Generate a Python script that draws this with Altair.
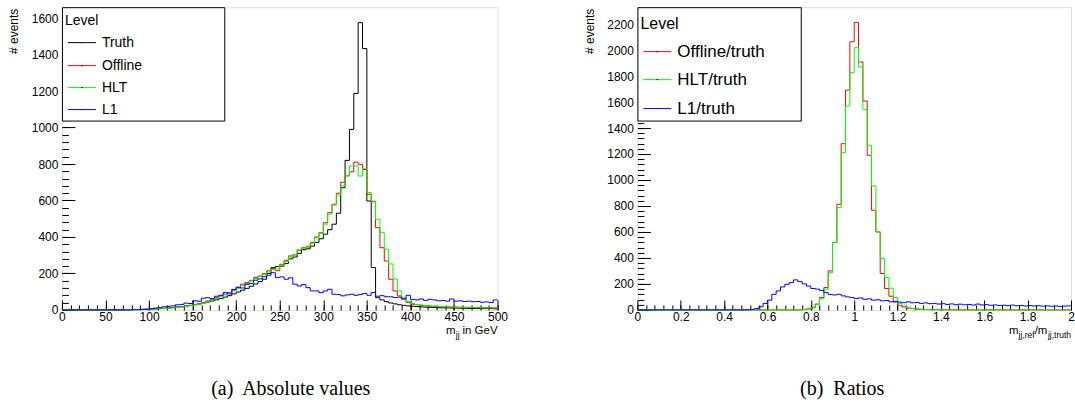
import altair as alt
import pandas as pd

FONT = "Liberation Sans"
SERIF = "Liberation Serif"

# ---------------- (a) absolute values: 100 bins of 5 GeV, 0..500 GeV ----------------
abs_bin_lo = 0.0
abs_bin_w = 5.0
abs_truth = [
    0, 0, 0, 0, 0, 0, 0, 0, 0, 0,
    0, 0, 0, 0, 1, 1, 2, 2, 3, 4,
    5, 6, 8, 9, 11, 13, 16, 18, 21, 25,
    29, 33, 38, 43, 49, 55, 62, 70, 78, 88,
    98, 108, 118, 130, 142, 155, 168, 200, 232, 238,
    240, 255, 280, 290, 310, 330, 335, 350, 370, 390,
    415, 440, 470, 530, 670, 820, 990, 1187, 1575, 1433,
    597, 232, 67, 55, 45, 38, 33, 28, 25, 22,
    20, 18, 17, 15, 14, 13, 12, 11, 11, 10,
    10, 9, 9, 8, 8, 8, 7, 7, 7, 6,
]
abs_offline = [
    0, 0, 0, 0, 0, 0, 0, 0, 0, 0,
    0, 0, 0, 1, 1, 1, 2, 2, 3, 3,
    4, 5, 7, 8, 10, 12, 15, 17, 21, 24,
    30, 34, 40, 49, 58, 67, 77, 86, 95, 113,
    122, 141, 150, 162, 177, 186, 199, 214, 228, 215,
    250, 272, 296, 301, 327, 341, 345, 369, 400, 423,
    478, 533, 579, 640, 700, 735, 757, 810, 798, 770,
    634, 593, 451, 341, 268, 168, 104, 77, 59, 40,
    31, 28, 25, 22, 21, 20, 18, 18, 17, 16,
    15, 15, 14, 14, 13, 13, 12, 12, 12, 11,
]
abs_hlt = [
    0, 0, 0, 0, 0, 0, 0, 0, 0, 0,
    0, 0, 0, 0, 1, 1, 1, 2, 2, 3,
    4, 5, 6, 8, 9, 11, 14, 16, 19, 23,
    27, 32, 37, 45, 55, 63, 73, 82, 92, 105,
    118, 132, 145, 158, 172, 183, 195, 208, 222, 225,
    245, 265, 290, 305, 330, 338, 350, 365, 395, 418,
    470, 525, 575, 630, 680, 735, 789, 789, 734, 777,
    643, 597, 498, 423, 333, 252, 170, 104, 67, 45,
    35, 30, 27, 24, 22, 20, 19, 18, 17, 16,
    15, 14, 14, 13, 13, 12, 12, 11, 11, 11,
]
abs_l1 = [
    0, 0, 0, 0, 0, 0, 0, 0, 0, 0,
    0, 0, 0, 0, 0, 0, 1, 1, 2, 3,
    6, 10, 12, 17, 20, 22, 28, 30, 37, 35,
    50, 48, 64, 67, 62, 75, 80, 95, 88, 110,
    125, 120, 140, 145, 163, 170, 182, 190, 204, 177,
    181, 168, 176, 141, 131, 139, 122, 104, 104, 95,
    104, 113, 86, 84, 77, 82, 86, 80, 84, 90,
    80, 95, 75, 78, 72, 72, 68, 70, 60, 80,
    58, 55, 60, 52, 58, 55, 50, 52, 48, 60,
    48, 50, 46, 48, 45, 46, 42, 44, 40, 55,
]
abs_names = ["Truth", "Offline", "HLT", "L1"]
abs_colors = ["#000000", "#ff0000", "#00ff00", "#0000ff"]
abs_x_major = [0, 50, 100, 150, 200, 250, 300, 350, 400, 450, 500]
abs_x_minor = list(range(0, 501, 10))
abs_y_major = [0, 200, 400, 600, 800, 1000, 1200, 1400, 1600]
abs_y_minor = list(range(0, 1641, 40))

# ---------------- (b) ratios: 100 bins of 0.02, 0..2 ----------------
rat_bin_lo = 0.0
rat_bin_w = 0.02
rat_offline = [
    0, 0, 0, 0, 0, 0, 0, 0, 0, 0,
    0, 0, 0, 0, 0, 0, 0, 0, 0, 0,
    0, 0, 0, 0, 0, 0, 0, 0, 0, 0,
    0, 0, 0, 0, 0, 0, 0, 1, 3, 8,
    18, 45, 95, 172, 300, 518, 813, 1279, 1692, 2064,
    2213, 1908, 1608, 1190, 767, 600, 280, 165, 105, 60,
    35, 22, 14, 9, 6, 4, 3, 2, 2, 1,
    1, 1, 0, 1, 0, 0, 0, 0, 0, 0,
    0, 0, 0, 0, 0, 0, 0, 0, 0, 0,
    0, 0, 0, 0, 0, 0, 0, 0, 0, 0,
]
rat_hlt = [
    0, 0, 0, 0, 0, 0, 0, 0, 0, 0,
    0, 0, 0, 0, 0, 0, 0, 0, 0, 0,
    0, 0, 0, 0, 0, 0, 0, 0, 0, 0,
    0, 0, 0, 0, 0, 0, 0, 0, 2, 6,
    15, 40, 85, 159, 287, 518, 787, 1210, 1569, 1826,
    2018, 1869, 1544, 1267, 954, 600, 397, 249, 167, 95,
    50, 30, 18, 12, 8, 5, 3, 2, 1, 1,
    1, 0, 1, 0, 0, 0, 0, 0, 0, 0,
    0, 0, 0, 0, 0, 0, 0, 0, 0, 0,
    0, 0, 0, 0, 0, 0, 0, 0, 0, 0,
]
rat_l1 = [
    0, 0, 0, 0, 0, 0, 0, 0, 0, 0,
    0, 0, 0, 0, 0, 0, 0, 0, 0, 0,
    0, 0, 0, 0, 0, 1, 4, 10, 25, 50,
    75, 120, 146, 177, 197, 210, 231, 218, 200, 183,
    165, 160, 150, 133, 118, 115, 120, 108, 100, 95,
    88, 92, 82, 85, 75, 78, 70, 72, 62, 66,
    60, 56, 62, 55, 57, 50, 54, 48, 50, 45,
    48, 42, 46, 40, 44, 39, 42, 37, 45, 38,
    40, 36, 38, 34, 36, 33, 37, 32, 34, 30,
    33, 30, 32, 29, 31, 28, 30, 27, 29, 31,
]
rat_names = ["Offline/truth", "HLT/truth", "L1/truth"]
rat_colors = ["#ff0000", "#00ff00", "#0000ff"]
rat_x_major = [0, 0.2, 0.4, 0.6, 0.8, 1.0, 1.2, 1.4, 1.6, 1.8, 2.0]
rat_x_minor = [round(0.04 * i, 2) for i in range(51)]
rat_y_major = [0, 200, 400, 600, 800, 1000, 1200, 1400, 1600, 1800, 2000, 2200]
rat_y_minor = list(range(0, 2321, 40))


def hist_frame(values, lo, w):
    xs = [lo + i * w for i in range(len(values) + 1)]
    ys = list(values) + [values[-1]]
    return pd.DataFrame({"x": xs, "y": ys})


def one_row():
    return alt.Chart(pd.DataFrame({"k": [0]}))


def text_layer(txt, x, y, size, align="left", font=FONT, baseline="middle"):
    return one_row().mark_text(
        text=txt, font=font, fontSize=size, align=align, baseline=baseline, color="black"
    ).encode(x=alt.value(x), y=alt.value(y))


def tick_layer(frame, xs, ys, W, H, xvals, yvals, xlen, ylen):
    return alt.Chart(frame).mark_line(opacity=0, strokeWidth=0).encode(
        x=alt.X("x:Q", scale=xs, axis=alt.Axis(
            orient="top", offset=-H, values=xvals, labels=False, domain=False,
            ticks=True, tickSize=xlen, tickColor="black", tickWidth=1, grid=False, title=None)),
        y=alt.Y("y:Q", scale=ys, axis=alt.Axis(
            orient="right", offset=-W, values=yvals, labels=False, domain=False,
            ticks=True, tickSize=ylen, tickColor="black", tickWidth=1, grid=False, title=None)),
    )


def panel(series, names, colors, lo, w, xdom, ydom, W, H, xfmt,
          xmaj, xmin, ymaj, ymin, leg, title_pieces, caption, caption_x):
    xs = alt.Scale(domain=xdom, nice=False, zero=False)
    ys = alt.Scale(domain=ydom, nice=False, zero=True)
    f0 = hist_frame(series[0], lo, w)

    base = alt.Chart(f0).mark_line(opacity=0, strokeWidth=0).encode(
        x=alt.X("x:Q", scale=xs, axis=alt.Axis(
            values=xmaj, format=xfmt, ticks=False, tickSize=0, labelPadding=2,
            labelOverlap=False, labelFlush=False,
            domain=False, grid=False, title=None, labelFont=FONT, labelFontSize=12,
            labelColor="black")),
        y=alt.Y("y:Q", scale=ys, axis=alt.Axis(
            values=ymaj, format="d", ticks=False, tickSize=0, labelPadding=4,
            labelOverlap=False, labelFlush=False,
            domain=False, grid=False, labelFont=FONT, labelFontSize=12, labelColor="black",
            title="# events", titleFont=FONT, titleFontSize=12, titleFontWeight="normal",
            titleColor="black", titleAngle=270, titleAlign="right", titleBaseline="middle",
            titleX=-48, titleY=1)),
    )
    layers = [base,
              tick_layer(f0, xs, ys, W, H, xmaj, ymaj, 10, 13),
              tick_layer(f0, xs, ys, W, H, xmin, ymin, 5, 6.5)]

    for vals, col in zip(series, colors):
        fr = hist_frame(vals, lo, w)
        layers.append(alt.Chart(fr).mark_line(
            interpolate="step-after", strokeWidth=1, color=col).encode(
            x=alt.X("x:Q", scale=xs, axis=None),
            y=alt.Y("y:Q", scale=ys, axis=None)))

    # legend box
    box_w, box_h, title_y, title_size, row_y0, row_dy, fsize = leg
    layers.append(one_row().mark_rect(fill="white", stroke="black", strokeWidth=1).encode(
        x=alt.value(0.5), x2=alt.value(box_w), y=alt.value(0.5), y2=alt.value(box_h)))
    layers.append(text_layer("Level", 3, title_y, title_size))
    for i, (n, c) in enumerate(zip(names, colors)):
        yy = round(row_y0 + i * row_dy) + 0.5
        layers.append(one_row().mark_rule(stroke=c, strokeWidth=1).encode(
            x=alt.value(6), x2=alt.value(34), y=alt.value(yy)))
        layers.append(one_row().mark_rule(stroke="#222222", strokeWidth=1).encode(
            x=alt.value(19), x2=alt.value(21), y=alt.value(yy)))
        layers.append(text_layer(n, 40, yy, fsize))

    for txt, x, y, size in title_pieces:
        layers.append(text_layer(txt, x, y, size, align="right"))

    layers.append(text_layer(caption, caption_x, 382, 20, align="center", font=SERIF))

    return alt.layer(*layers).resolve_axis(x="independent", y="independent").properties(
        width=W, height=H)


left = panel(
    [abs_truth, abs_offline, abs_hlt, abs_l1], abs_names, abs_colors,
    abs_bin_lo, abs_bin_w, [0, 500], [0, 1660], 436, 303, "d",
    abs_x_major, abs_x_minor, abs_y_major, abs_y_minor,
    (163, 114, 14, 14, 35, 22.5, 14),
    [("m", 394, 324.5, 11.5), ("jj", 398, 328.5, 8.5), ("in GeV", 436, 324.5, 11.5)],
    "(a)\u00a0 Absolute values", 229,
)

right = panel(
    [rat_offline, rat_hlt, rat_l1], rat_names, rat_colors,
    rat_bin_lo, rat_bin_w, [0, 2], [0, 2330], 434, 303, "~g",
    rat_x_major, rat_x_minor, rat_y_major, rat_y_minor,
    (164, 114, 17, 16, 44, 28.5, 17),
    [("m", 381.6, 324.5, 11.5), ("jj,ref", 397.6, 328.5, 8.5), ("/m", 410.4, 324.5, 11.5),
     ("jj,truth", 434, 328.5, 8.5)],
    "(b)\u00a0 Ratios", 205,
)

chart = alt.hconcat(
    left, right, spacing=140, bounds="flush",
    padding={"left": 7, "top": 6, "right": 0, "bottom": 0},
).configure_view(stroke="black", strokeWidth=1).configure(background="white")

chart.save("out.html", embed_options={"renderer": "svg", "actions": False})
